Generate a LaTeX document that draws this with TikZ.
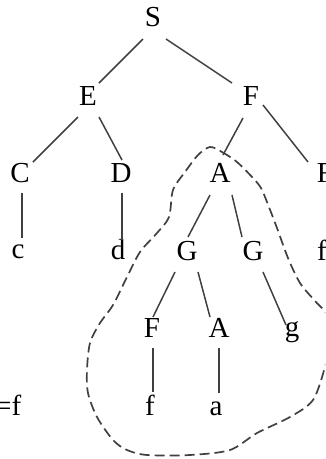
\documentclass[tikz,border=0pt]{standalone}
\usepackage{fontspec}
\setmainfont{Liberation Serif}
\usetikzlibrary{calc}
\begin{document}
\begin{tikzpicture}[x=1pt,y=-1pt,
  lbl/.style={anchor=base,inner sep=0pt,font=\fontsize{29}{32}\selectfont},
  edge/.style={draw=black!75,line width=1.5pt},
  region/.style={draw=black!75,line width=1.7pt,dash pattern=on 10pt off 5pt}]
\useasboundingbox (0,0) rectangle (325,459);
\clip (0,0) rectangle (325,459);
% nodes
\node[lbl] (S)  at (153,26)  {S};
\node[lbl] (E)  at (88,105)  {E};
\node[lbl] (F)  at (251,105) {F};
\node[lbl] (C)  at (20,182)  {C};
\node[lbl] (D)  at (121,182) {D};
\node[lbl] (A)  at (220,182) {A};
\node[lbl] (Fr) at (325,182) {F};
\node[lbl] (c)  at (18,258)  {c};
\node[lbl] (d)  at (118,259) {d};
\node[lbl] (G1) at (187,260) {G};
\node[lbl] (G2) at (253,260) {G};
\node[lbl] (fr) at (322,260) {f};
\node[lbl] (F3) at (152,337) {F};
\node[lbl] (A2) at (219,337) {A};
\node[lbl] (g)  at (292,336) {g};
\node[lbl] (f)  at (150,415) {f};
\node[lbl] (a)  at (216,415) {a};
\node[lbl,anchor=base west] (eq) at (-5,415) {=f};
% connectors
\draw[edge] ($(S.base)+(-10,13)$) -- ($(E.base)+(11,-22)$);
\draw[edge] ($(S.base)+(13,13)$)  -- ($(F.base)+(-19,-22)$);
\draw[edge] ($(E.base)+(-10,12)$) -- ($(C.base)+(13,-20)$);
\draw[edge] ($(E.base)+(11,12)$)  -- ($(D.base)+(1,-22)$);
\draw[edge] ($(F.base)+(-8,13)$)  -- ($(A.base)+(3,-27)$);
\draw[edge] ($(F.base)+(12,0)$)   -- ($(Fr.base)+(-17,-20)$);
\draw[edge] ($(C.base)+(2,11)$)   -- ($(c.base)+(4,-20)$);
\draw[edge] ($(D.base)+(1,11)$)   -- ($(d.base)+(4,-19)$);
\draw[edge] ($(A.base)+(-10,13)$) -- ($(G1.base)+(1,-23)$);
\draw[edge] ($(A.base)+(12,13)$)  -- ($(G2.base)+(-11,-23)$);
\draw[edge] ($(G1.base)+(-12,12)$) -- ($(F3.base)+(1,-20)$);
\draw[edge] ($(G1.base)+(11,12)$)  -- ($(A2.base)+(-9,-20)$);
\draw[edge] ($(G2.base)+(10,12)$)  -- ($(g.base)+(-6,-11)$);
\draw[edge] ($(F3.base)+(1,11)$)   -- ($(f.base)+(3,-23)$);
\draw[edge] ($(A2.base)+(0,11)$)   -- ($(a.base)+(3,-22)$);
% dashed region
\draw[region] plot[smooth cycle,tension=0.5] coordinates {
  (210,147) (222,152) (237,162) (253,178) (261,188) (267,202) (277,228)
  (288,258) (300,283) (315,301) (327,315) (331,340) (325,367) (313,400)
  (290,417) (257,433) (230,450) (190,455) (147,455) (127,450) (113,440)
  (97,417) (88,393) (87,370) (90,343) (100,323) (113,305) (127,277)
  (140,252) (157,233) (169,217) (173,190) (185,172) (198,155)};
\end{tikzpicture}
\end{document}
